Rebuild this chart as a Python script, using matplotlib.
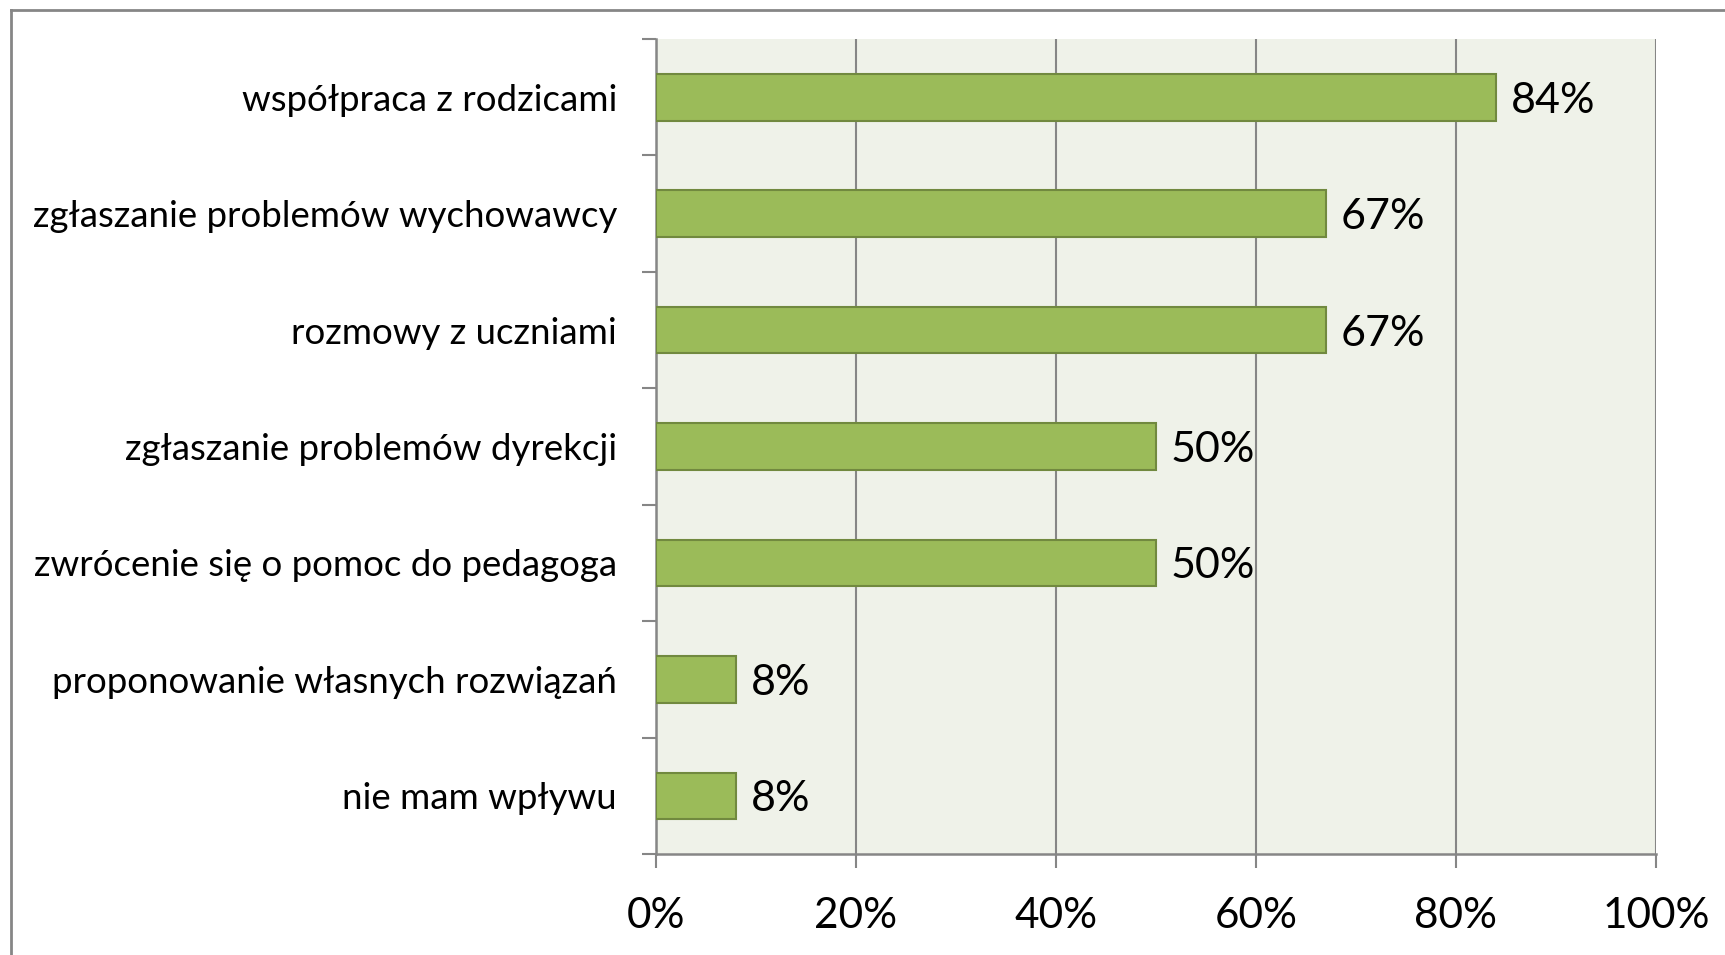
import matplotlib
matplotlib.use("Agg")
import matplotlib.pyplot as plt
from matplotlib.lines import Line2D
from matplotlib.ticker import FuncFormatter, FixedLocator

categories = [
    "współpraca z rodzicami",
    "zgłaszanie problemów wychowawcy",
    "rozmowy z uczniami",
    "zgłaszanie problemów dyrekcji",
    "zwrócenie się o pomoc do pedagoga",
    "proponowanie własnych rozwiązań",
    "nie mam wpływu",
]
values = [84, 67, 67, 50, 50, 8, 8]
x_ticks = [0, 20, 40, 60, 80, 100]

plt.rcParams['font.family'] = ['Lato', 'DejaVu Sans']

W, H = 1725, 955
fig = plt.figure(figsize=(W / 100, H / 100), dpi=100)
fig.patch.set_facecolor('white')

gray = '#868686'
ax = fig.add_axes([656 / W, 1 - 854 / H, 1000 / W, (854 - 39) / H])
ax.set_facecolor('#EFF2E9')

n = len(categories)
ypos = list(range(n))
ax.barh(ypos, values, height=0.4, color='#9BBB59', edgecolor='#71893F', linewidth=1.5, zorder=3)
for y, v in zip(ypos, values):
    ax.text(v + 1.5, y, f"{v}%", va='center_baseline', ha='left', fontsize=31, color='black', zorder=4)

ax.set_xlim(0, 100)
ax.set_ylim(n - 0.5, -0.5)
ax.xaxis.set_major_locator(FixedLocator(x_ticks))
ax.xaxis.set_major_formatter(FuncFormatter(lambda v, p: f"{int(v)}%"))
ax.grid(axis='x', color=gray, linewidth=1.5, zorder=1)
ax.set_yticks(ypos)
ax.set_yticklabels(categories, fontsize=26.4)
ax.yaxis.set_minor_locator(FixedLocator([i - 0.5 for i in range(n + 1)]))

ax.tick_params(axis='y', which='major', length=0, pad=28)
ax.tick_params(axis='y', which='minor', length=10, width=1.5, color=gray, direction='out')
ax.tick_params(axis='x', which='major', length=10, width=1.5, color=gray, direction='out', pad=21, labelsize=30.5)

for s in ['top', 'right']:
    ax.spines[s].set_visible(False)
for s in ['left', 'bottom']:
    ax.spines[s].set_color(gray)
    ax.spines[s].set_linewidth(1.8)

# outer chart border (extends past right/bottom edges)
fig.add_artist(Line2D([11 / W, 11 / W], [1 - 10 / H, 0], transform=fig.transFigure, color=gray, linewidth=2))
fig.add_artist(Line2D([11 / W, 1], [1 - 10 / H, 1 - 10 / H], transform=fig.transFigure, color=gray, linewidth=2))

fig.savefig('out.png', dpi=100)
